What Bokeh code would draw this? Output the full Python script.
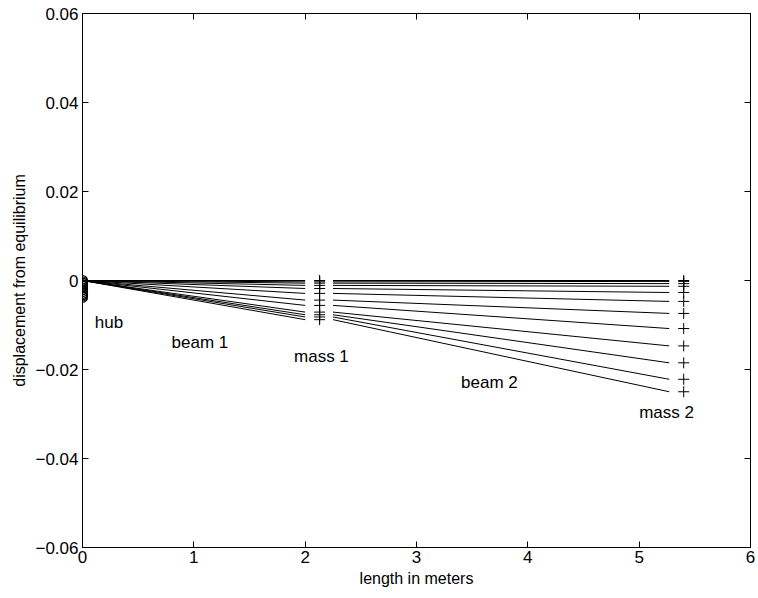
from bokeh.plotting import figure
from bokeh.models import FixedTicker, LinearAxis, Range1d, ColumnDataSource
from bokeh.core.properties import value
from bokeh.embed import file_html
from bokeh.resources import INLINE

# ---- data ----
hub_x = 0.0
beam1_x = [0.0, 2.0]
mass1_x = 2.13
beam2_x = [2.25, 5.27]
mass2_x = 5.40

hub_y = [0.0, -0.0003, -0.0006, -0.0009, -0.0013, -0.0017, -0.0021, -0.0025, -0.0029, -0.0032, -0.0035, -0.0038]
mass1_y = [0.0, -0.0003, -0.0006, -0.0011, -0.0018, -0.0029, -0.0044, -0.0056, -0.0071, -0.0077, -0.0082, -0.0088]
mass2_y = [0.0, -0.0002, -0.0007, -0.0013, -0.0027, -0.0047, -0.0074, -0.0108, -0.0147, -0.0185, -0.0222, -0.0250]

labels = ["hub", "beam 1", "mass 1", "beam 2", "mass 2"]
label_x = [0.11, 0.80, 1.90, 3.40, 5.00]
label_y = [-0.0094, -0.0139, -0.0171, -0.0229, -0.0297]

x_ticks = [0, 1, 2, 3, 4, 5, 6]
y_ticks = [-0.06, -0.04, -0.02, 0.0, 0.02, 0.04, 0.06]
y_tick_labels = ["\u22120.06", "\u22120.04", "\u22120.02", "0", "0.02", "0.04", "0.06"]

FONT = "Liberation Sans"

p = figure(width=758, height=598, output_backend="svg", toolbar_location=None,
           x_range=Range1d(0, 6), y_range=Range1d(-0.06, 0.06),
           min_border_left=82, min_border_right=8, min_border_top=13, min_border_bottom=51)
p.background_fill_color = "white"
p.border_fill_color = "white"
p.outline_line_color = "black"
p.outline_line_width = 1
p.grid.visible = False

for ax in [p.xaxis[0], p.yaxis[0]]:
    ax.major_tick_in = 6
    ax.major_tick_out = 0
    ax.minor_tick_in = 0
    ax.minor_tick_out = 0
    ax.axis_line_color = "black"
    ax.major_label_text_font = FONT
    ax.major_label_text_font_size = "17px"
    ax.major_label_text_color = "black"
    ax.axis_label_text_font = FONT
    ax.axis_label_text_font_size = "16px"
    ax.axis_label_text_font_style = "normal"
    ax.axis_label_text_color = "black"

p.xaxis[0].ticker = FixedTicker(ticks=x_ticks)
p.yaxis[0].ticker = FixedTicker(ticks=y_ticks)
p.yaxis[0].major_label_overrides = {t: s for t, s in zip(y_ticks, y_tick_labels)}
p.xaxis[0].axis_label = "length in meters"
p.yaxis[0].axis_label = "displacement from equilibrium"
p.xaxis[0].major_label_standoff = 3
p.yaxis[0].major_label_standoff = 4
p.xaxis[0].axis_label_standoff = 4
p.yaxis[0].axis_label_standoff = 4

# mirrored tick axes on top and right
top = LinearAxis(ticker=FixedTicker(ticks=x_ticks), major_label_text_font_size="0px",
                 major_tick_in=6, major_tick_out=0, minor_tick_in=0, minor_tick_out=0)
right = LinearAxis(ticker=FixedTicker(ticks=y_ticks), major_label_text_font_size="0px",
                   major_tick_in=6, major_tick_out=0, minor_tick_in=0, minor_tick_out=0)
top.major_label_text_alpha = 0
right.major_label_text_alpha = 0
p.add_layout(top, "above")
p.add_layout(right, "right")

# beams
n = len(mass1_y)
b1_xs = [beam1_x for _ in range(n)]
b1_ys = [[0.0, mass1_y[i]] for i in range(n)]
b2_xs = [beam2_x for _ in range(n)]
b2_ys = [[mass1_y[i], mass2_y[i]] for i in range(n)]
p.multi_line(b1_xs, b1_ys, line_color="black", line_width=1)
p.multi_line(b2_xs, b2_ys, line_color="black", line_width=1)

# hub circles
p.scatter([hub_x] * n, hub_y, marker="circle", size=10, line_color="black",
          fill_alpha=0, line_width=1.2)
# masses
p.scatter([mass1_x] * n, mass1_y, marker="cross", size=11, line_color="black", line_width=1)
p.scatter([mass2_x] * n, mass2_y, marker="cross", size=11, line_color="black", line_width=1)

src = ColumnDataSource(dict(x=label_x, y=label_y, t=labels))
p.text(x="x", y="y", text="t", source=src, text_font=value(FONT), text_font_size="17px",
       text_color="black", text_baseline="middle", text_align="left")

open("out.html", "w").write(file_html(p, INLINE))
